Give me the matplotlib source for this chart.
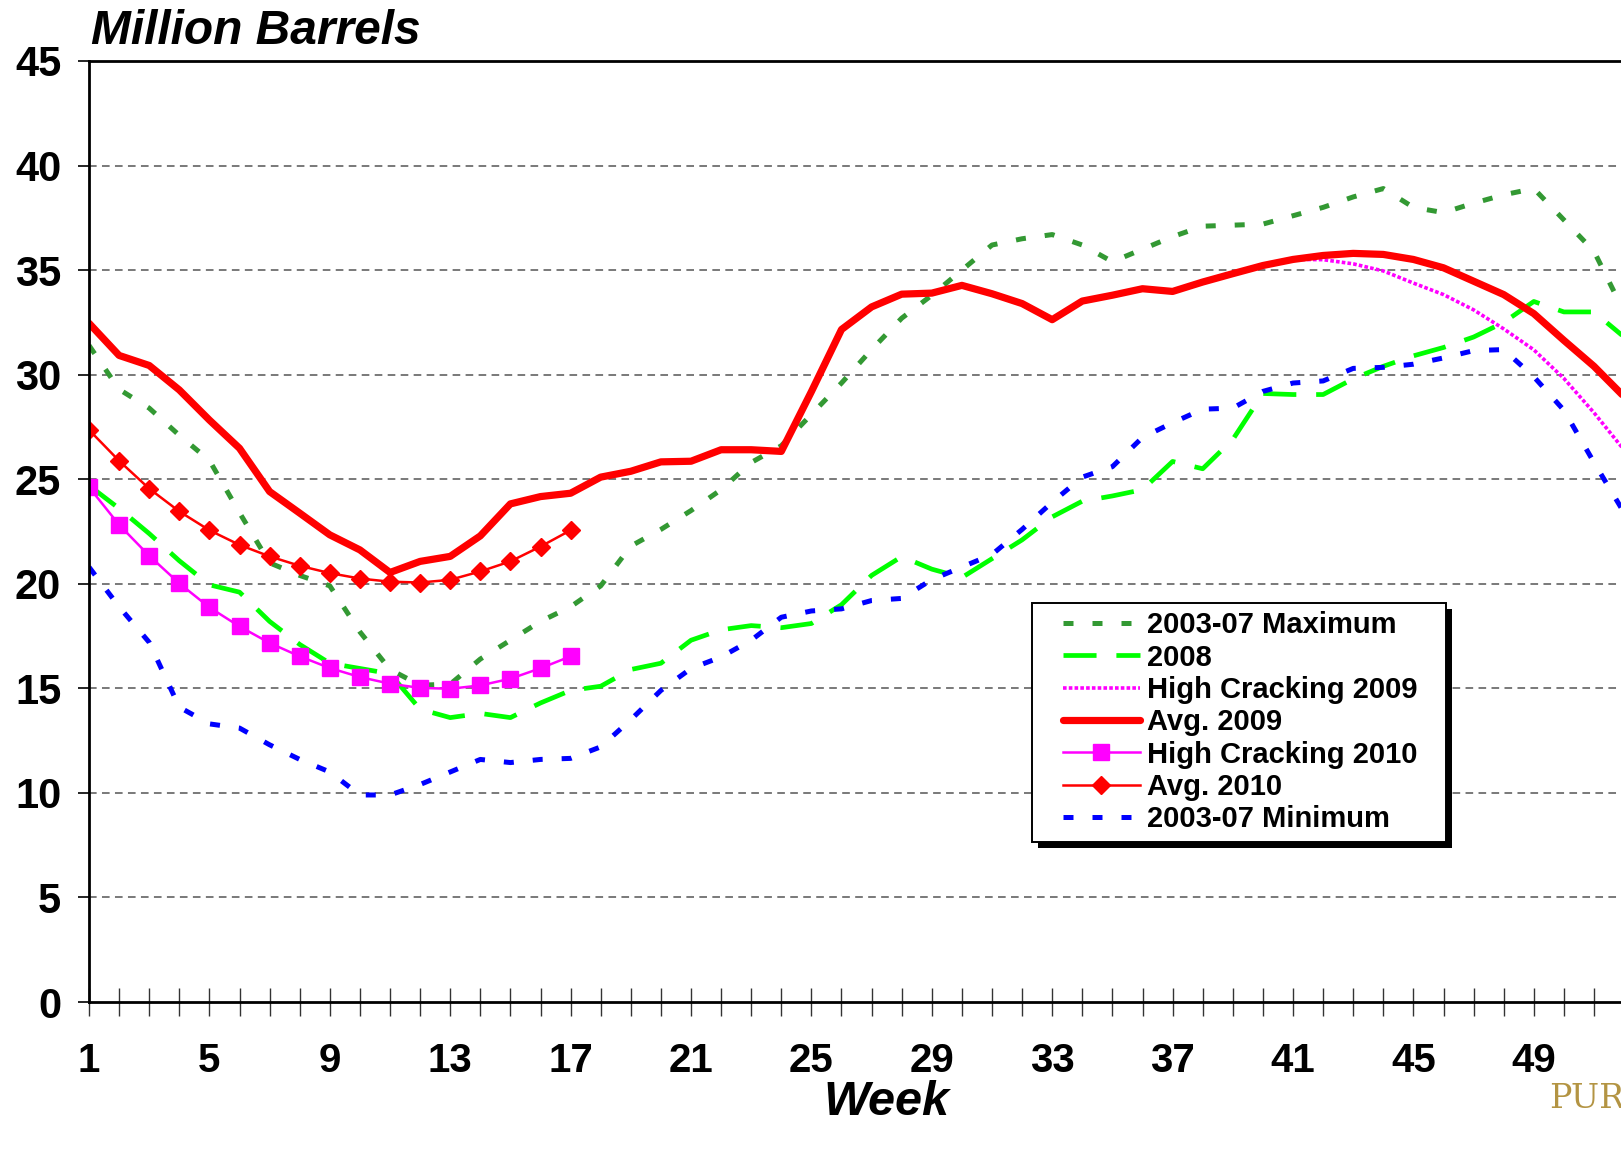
import numpy as np
import matplotlib
matplotlib.use("Agg")
import matplotlib.pyplot as plt
from matplotlib.patches import Rectangle
from matplotlib.lines import Line2D
from matplotlib.legend_handler import HandlerLine2D

plt.rcParams['font.family'] = ['Liberation Sans', 'DejaVu Sans']

weeks = np.arange(1, 53)

max_0307 = [31.4, 29.3, 28.4, 27.1, 25.9, 23.4, 21.0, 20.4, 19.9, 17.7,
            15.9, 15.15, 15.2, 16.4, 17.3, 18.2, 18.9, 19.9, 21.8, 22.6,
            23.5, 24.5, 25.8, 26.6, 28.1, 29.6, 31.2, 32.7, 33.8, 35.0,
            36.2, 36.5, 36.7, 36.2, 35.4, 36.0, 36.6, 37.1, 37.15, 37.2,
            37.6, 38.0, 38.5, 38.9, 38.0, 37.75, 38.2, 38.6, 38.9, 37.4,
            35.9, 33.0]

y2008 = [24.7, 23.6, 22.4, 21.1, 19.95, 19.6, 18.2, 17.1, 16.2, 15.95,
         15.7, 14.0, 13.6, 13.8, 13.6, 14.3, 14.9, 15.1, 15.9, 16.2,
         17.3, 17.8, 18.0, 17.9, 18.1, 19.0, 20.4, 21.3, 20.7, 20.3,
         21.2, 22.1, 23.2, 23.95, 24.2, 24.5, 25.85, 25.5, 26.9, 29.1,
         29.05, 29.05, 29.8, 30.4, 30.9, 31.3, 31.8, 32.5, 33.5, 33.0,
         33.0, 31.8]

avg_2009 = [32.46, 30.92, 30.44, 29.27, 27.83, 26.48, 24.41, 23.38, 22.34, 21.62,
            20.54, 21.07, 21.31, 22.29, 23.82, 24.17, 24.33, 25.1, 25.38, 25.83,
            25.86, 26.41, 26.41, 26.33, 29.19, 32.16, 33.24, 33.85, 33.9, 34.27,
            33.87, 33.4, 32.63, 33.52, 33.8, 34.11, 33.98, 34.43, 34.83, 35.22,
            35.51, 35.7, 35.8, 35.75, 35.51, 35.11, 34.47, 33.83, 32.92, 31.64,
            30.4, 28.95]

hc_2009 = avg_2009[:41] + [35.5, 35.3, 34.96, 34.38, 33.83, 33.1, 32.19, 31.19,
                           29.82, 28.18, 26.4]

weeks_2010 = np.arange(1, 18)
hc_2010 = [24.62, 22.82, 21.34, 20.02, 18.87, 17.96, 17.17, 16.53, 15.97, 15.54,
           15.22, 15.02, 14.98, 15.14, 15.46, 15.96, 16.53]
avg_2010 = [27.36, 25.88, 24.55, 23.46, 22.56, 21.86, 21.31, 20.86, 20.51, 20.25,
            20.10, 20.06, 20.19, 20.59, 21.07, 21.78, 22.56]

min_0307 = [20.8, 18.9, 17.2, 14.1, 13.3, 13.1, 12.3, 11.6, 11.0, 9.9,
            9.9, 10.4, 11.0, 11.6, 11.45, 11.6, 11.65, 12.2, 13.5, 14.9,
            15.95, 16.5, 17.3, 18.4, 18.7, 18.8, 19.2, 19.3, 20.2, 20.8,
            21.4, 22.6, 23.9, 25.1, 25.6, 27.0, 27.7, 28.35, 28.4, 29.2,
            29.6, 29.7, 30.3, 30.35, 30.5, 30.8, 31.15, 31.2, 29.9, 28.3,
            25.8, 23.4]

W, H = 1621, 1149
fig = plt.figure(figsize=(W / 100, H / 100), dpi=100)
# axes runs past the right edge of the figure, like the cropped original
ax = fig.add_axes([89 / W, 1 - 1002 / H, 53 * 30.1 / W, (1002 - 61) / H])

ax.plot(weeks, max_0307, color='#339933', lw=3.6, ls=(0, (2.0, 3.8)),
        label='2003-07 Maximum')
ax.plot(weeks, y2008, color='#00ff00', lw=3.4, ls=(0, (7.0, 4.2)),
        label='2008')
ax.plot(weeks, hc_2009, color='#ff00ff', lw=2.6, ls=(0, (1.0, 0.6)),
        label='High Cracking 2009')
ax.plot(weeks, avg_2009, color='#ff0000', lw=5.2, solid_capstyle='round',
        label='Avg. 2009')
ax.plot(weeks_2010, hc_2010, color='#ff00ff', lw=1.8, marker='s', ms=11,
        mec='#ff00ff', label='High Cracking 2010')
ax.plot(weeks_2010, avg_2010, color='#ff0000', lw=1.8, marker='D', ms=9,
        mec='#ff0000', label='Avg. 2010')
ax.plot(weeks, min_0307, color='#0000ff', lw=3.6, ls=(0, (2.0, 3.8)),
        label='2003-07 Minimum')

ax.set_xlim(1, 54)
ax.set_ylim(0, 45)
ax.set_yticks(np.arange(0, 46, 5))
ax.set_xticks(np.arange(1, 50, 4))
ax.set_xticks(np.arange(1, 55), minor=True)

for y in range(5, 45, 5):
    ax.axhline(y, color='#555555', lw=1.1, ls=(0, (5, 3.5)), zorder=0.5)

ax.spines['right'].set_visible(False)
for side in ['left', 'top', 'bottom']:
    ax.spines[side].set_linewidth(2.0)
    ax.spines[side].set_color('black')

ax.tick_params(axis='y', direction='out', length=8, width=1.2,
               labelsize=30, pad=12)
ax.tick_params(axis='x', which='both', direction='inout', length=20,
               width=1.0, color='#333333')
ax.tick_params(axis='x', which='major', labelsize=29, pad=19)
for lab in ax.get_xticklabels() + ax.get_yticklabels():
    lab.set_fontweight('bold')

ax.set_xlabel('Week', fontsize=35, fontweight='bold', fontstyle='italic',
              labelpad=0)
fig.text(91 / W, 1 - 44 / H, 'Million Barrels', fontsize=34.5,
         fontweight='bold', fontstyle='italic', ha='left', va='baseline')

fs = 21
leg = ax.legend(loc='upper left',
                bbox_to_anchor=(1032 / W, 1 - 839 / H, 414 / W, 236 / H),
                bbox_transform=fig.transFigure, borderaxespad=0, mode='expand',
                prop={'size': fs, 'weight': 'bold'}, frameon=True,
                fancybox=False, edgecolor='black', framealpha=1,
                handlelength=3.42, handletextpad=0.24, labelspacing=0.15,
                borderpad=0.28,
                handler_map={Line2D: HandlerLine2D(xpad=0.78)})
leg.get_frame().set_linewidth(1.4)

fig.canvas.draw()
bb = leg.get_window_extent()
ax.add_patch(Rectangle((bb.x0 + 6, bb.y0 - 6), bb.width, bb.height,
                       transform=None, facecolor='black', edgecolor='none',
                       zorder=4.9, clip_on=False))

# logo fragment in the lower right corner
fig.text(1549 / W, 1 - 1108 / H, 'PUR', fontsize=24, color='#b39443',
         family='DejaVu Serif', ha='left', va='baseline')

fig.savefig('out.png', dpi=100)
